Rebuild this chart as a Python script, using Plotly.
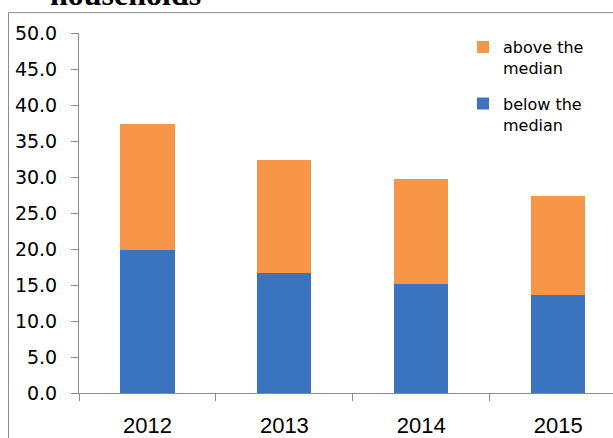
import plotly.graph_objects as go

years = ["2012", "2013", "2014", "2015"]
below_median = [19.8, 16.7, 15.1, 13.6]
above_median = [17.6, 15.6, 14.6, 13.7]
y_ticks = [0, 5, 10, 15, 20, 25, 30, 35, 40, 45, 50]
y_tick_labels = [f"{v:.1f}" for v in y_ticks]

W, H = 613, 438
L, R, T, B = 79, 0, 33, 42
pw, ph = W - L - R, H - T - B

def px_to_paper_x(px):
    return (px - L) / pw

def px_to_paper_y(py):
    return (H - B - py) / ph

fig = go.Figure()
fig.add_trace(go.Bar(x=years, y=below_median, name="below the<br>median", legendgroup="b",
                     legendrank=2, marker=dict(color="#3a73be", line=dict(width=0)), width=0.395))
fig.add_trace(go.Bar(x=years, y=above_median, name="above the<br>median", legendgroup="a",
                     legendrank=1, marker=dict(color="#f79646", line=dict(width=0)), width=0.395))

axis_col = "#8c8c8c"
fig.update_layout(
    width=W, height=H,
    margin=dict(l=L, r=R, t=T, b=B, pad=0),
    barmode="stack",
    plot_bgcolor="white", paper_bgcolor="white",
    showlegend=True,
    legend=dict(x=px_to_paper_x(463), y=px_to_paper_y(30), xanchor="left", yanchor="top",
                traceorder="grouped", valign="top",
                font=dict(family="DejaVu Sans", size=16, color="black"),
                bgcolor="rgba(0,0,0,0)", itemwidth=30, tracegroupgap=12),
    xaxis=dict(type="category", range=[-0.5, 3.40], showline=True, linecolor=axis_col, linewidth=1,
               ticks="outside", tickson="boundaries", ticklen=7, tickcolor=axis_col,
               ticklabelstandoff=13,
               tickfont=dict(family="Liberation Sans", size=22, color="black"),
               showgrid=False, zeroline=False),
    yaxis=dict(range=[0, 50], tickvals=y_ticks, ticktext=y_tick_labels, showline=True,
               linecolor=axis_col, linewidth=1, ticks="outside", ticklen=7, tickcolor=axis_col,
               ticklabelstandoff=10,
               tickfont=dict(family="DejaVu Sans", size=19, color="black"),
               showgrid=False, zeroline=False),
    bargap=0.6,
)

# outer chart frame (partially cropped)
fig.add_shape(type="rect", xref="paper", yref="paper",
              x0=px_to_paper_x(8.5), x1=1.2, y0=-0.3, y1=px_to_paper_y(12.5),
              line=dict(color="#8c8c8c", width=1), fillcolor="rgba(0,0,0,0)", layer="below")

# cropped title
fig.add_annotation(text="<b>households</b>", xref="paper", yref="paper",
                   x=px_to_paper_x(125), y=px_to_paper_y(14), xanchor="center", yanchor="bottom",
                   showarrow=False, font=dict(family="Liberation Serif", size=32, color="black"))

fig.write_html("out.html", config={"displayModeBar": False},
               post_script="document.body.style.margin='0px';document.body.style.overflow='hidden';")
